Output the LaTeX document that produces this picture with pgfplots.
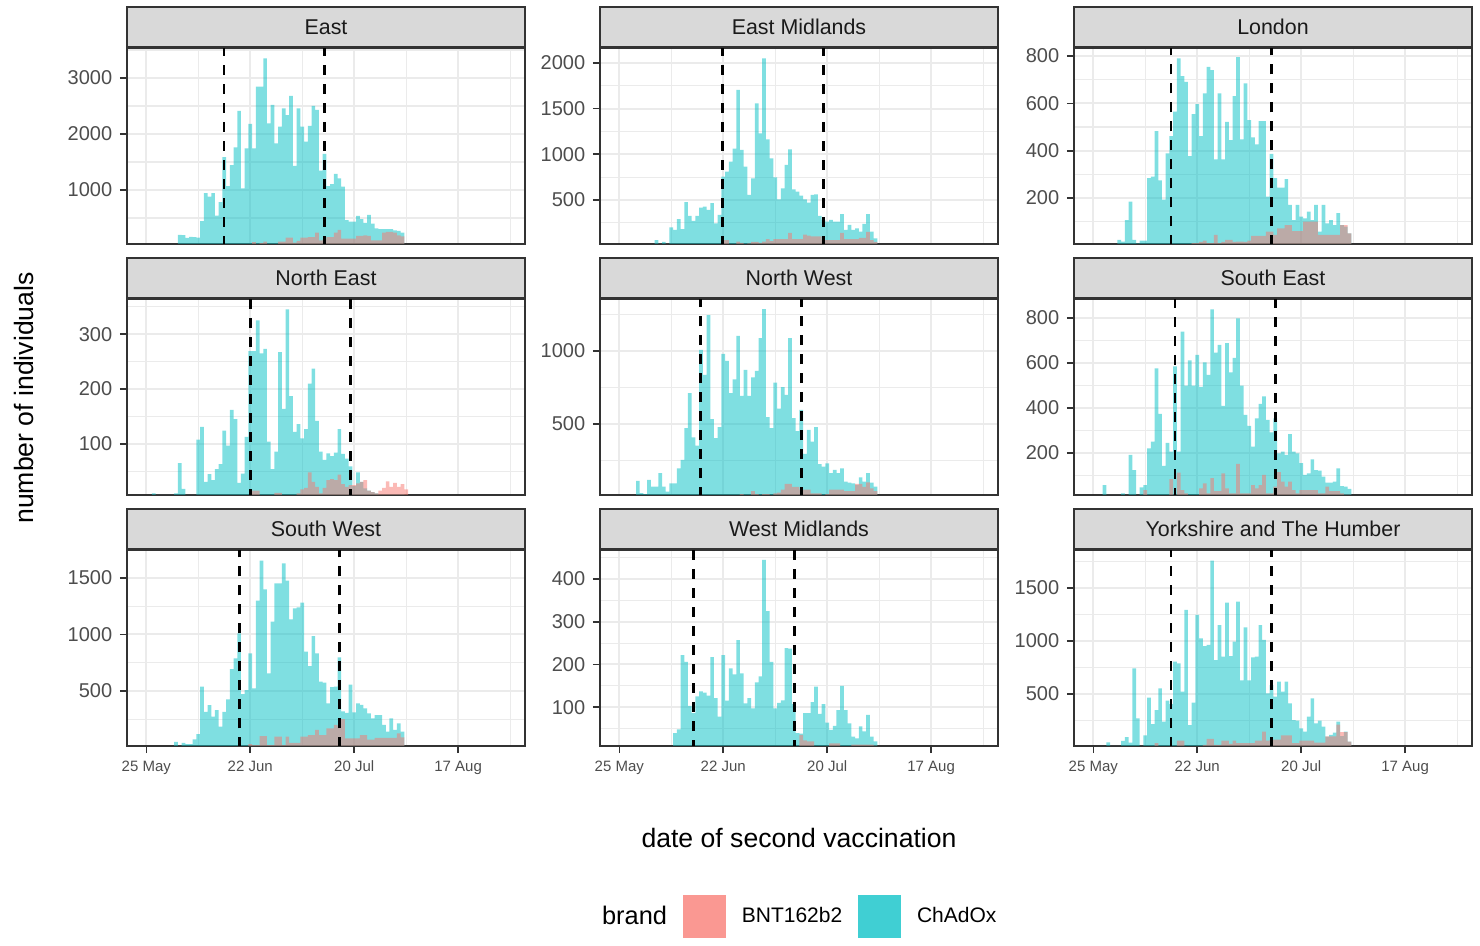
\documentclass[border=0pt]{standalone}
\usepackage{pgfplots}
\pgfplotsset{compat=1.18}
\usepackage{pgfplotstable}
\usepackage{fontspec}
\setmainfont{Liberation Sans}

\definecolor{c10}{HTML}{1A1A1A}
\definecolor{c20}{HTML}{333333}
\definecolor{c30}{HTML}{4D4D4D}
\definecolor{c85}{HTML}{D9D9D9}
\definecolor{c92}{HTML}{EBEBEB}
\definecolor{cyanb}{HTML}{00BFC4}
\definecolor{pinkb}{HTML}{F8766D}
\definecolor{keycyan}{HTML}{40CFD3}
\definecolor{keypink}{HTML}{FA9892}

% columns: d = day after 25 May, c = ChAdOx count, b = BNT162b2 count
\pgfplotstableread{
d c b
9 200 0
10 196 0
11 143 0
12 165 0
13 160 0
14 150 0
15 446 5
16 946 5
17 880 5
18 946 5
19 541 5
20 785 10
21 1589 10
22 1071 10
23 1446 15
24 1762 15
25 2411 15
26 1030 20
27 1744 20
28 2179 30
29 1744 70
30 2845 40
31 2845 50
32 3352 77
33 2190 40
34 2518 30
35 1834 40
36 2131 77
37 2458 77
38 2339 148
39 2679 150
40 1429 60
41 2458 90
42 2131 148
43 1864 148
44 2143 160
45 2500 160
46 2429 238
47 1345 100
48 1643 120
49 1071 160
50 1107 160
51 1286 238
52 1209 286
53 1060 130
54 464 130
55 435 130
56 435 130
57 536 180
58 482 180
59 411 190
60 554 180
61 400 100
62 315 100
63 300 100
64 300 240
65 300 250
66 300 250
67 280 240
68 268 190
69 238 170
70 0 0
}\tEast

\pgfplotstableread{
d c b
10 60 0
11 0 0
12 40 0
13 10 0
14 200 0
15 172 0
16 289 0
17 180 0
18 475 0
19 325 10
20 270 5
21 325 5
22 416 5
23 427 5
24 391 5
25 464 10
26 245 10
27 336 15
28 755 60
29 810 60
30 920 20
31 1062 20
32 1704 45
33 1048 30
34 865 20
35 555 25
36 737 40
37 1558 40
38 1229 30
39 2051 45
40 1164 70
41 955 50
42 747 70
43 507 70
44 628 70
45 884 70
46 1055 140
47 617 70
48 592 70
49 548 70
50 507 120
51 471 110
52 555 100
53 562 100
54 325 100
55 281 60
56 263 60
57 281 60
58 263 60
59 263 60
60 344 140
61 172 70
62 227 70
63 172 70
64 190 70
65 153 85
66 238 85
67 344 150
68 153 60
69 80 40
70 0 0
}\tEM

\pgfplotstableread{
d c b
7 23 0
8 16 0
9 107 0
10 185 0
11 23 0
12 9 0
13 20 0
14 20 0
15 284 0
16 291 0
17 483 0
18 275 0
19 193 0
20 389 0
21 462 0
22 565 2
23 790 2
24 715 2
25 691 5
26 377 5
27 555 10
28 597 10
29 462 15
30 642 20
31 754 10
32 740 10
33 363 44
34 642 10
35 363 15
36 522 23
37 445 23
38 631 15
39 795 16
40 448 16
41 684 15
42 529 20
43 456 40
44 427 40
45 525 40
46 525 40
47 206 58
48 387 58
49 284 44
50 244 72
51 244 72
52 280 86
53 171 86
54 107 60
55 171 60
56 122 60
57 114 100
58 143 100
59 107 100
60 171 100
61 58 44
62 171 44
63 93 44
64 107 44
65 86 44
66 136 44
67 86 86
68 79 86
69 51 51
70 0 0
}\tLondon

\pgfplotstableread{
d c b
2 10 0
3 5 0
4 5 0
5 0 0
6 5 0
7 5 0
8 10 0
9 65 0
10 18 0
11 0 0
12 0 0
13 0 0
14 108 0
15 131 0
16 31 0
17 45 0
18 34 0
19 54 0
20 63 0
21 124 0
22 97 0
23 162 0
24 145 0
25 29 0
26 46 0
27 113 0
28 269 3
29 269 15
30 325 15
31 265 5
32 273 5
33 104 3
34 54 3
35 86 11
36 267 11
37 164 5
38 345 5
39 187 5
40 122 5
41 136 10
42 110 17
43 127 20
44 210 48
45 237 31
46 142 22
47 86 10
48 71 20
49 83 34
50 78 36
51 84 34
52 127 44
53 82 27
54 73 22
55 59 25
56 23 25
57 48 28
58 31 31
59 19 34
60 15 15
61 12 12
62 10 10
63 8 15
64 8 20
65 8 32
66 8 22
67 8 29
68 8 22
69 8 27
70 5 17
71 0 0
}\tNE

\pgfplotstableread{
d c b
5 110 0
6 26 0
7 20 0
8 117 0
9 71 0
10 71 0
11 163 0
12 71 0
13 37 0
14 94 0
15 94 0
16 197 0
17 254 0
18 471 0
19 711 0
20 409 0
21 352 0
22 1007 0
23 836 0
24 1246 0
25 533 0
26 403 0
27 478 5
28 980 5
29 932 5
30 711 5
31 806 5
32 1104 10
33 693 20
34 871 10
35 693 10
36 820 40
37 864 20
38 1088 10
39 1287 20
40 547 20
41 471 10
42 784 25
43 606 30
44 752 50
45 700 90
46 1088 90
47 540 70
48 452 70
49 596 50
50 295 50
51 460 50
52 380 25
53 478 25
54 226 25
55 208 15
56 231 20
57 163 50
58 186 50
59 163 50
60 197 50
61 106 40
62 99 40
63 94 40
64 83 90
65 135 90
66 106 70
67 163 100
68 99 60
69 71 40
70 0 0
}\tNW

\pgfplotstableread{
d c b
3 57 0
4 0 0
5 0 0
6 0 0
7 0 0
8 20 0
9 0 0
10 191 0
11 124 0
12 0 0
13 47 0
14 57 35
15 220 0
16 250 0
17 576 0
18 373 0
19 142 0
20 245 10
21 206 83
22 584 10
23 206 112
24 739 35
25 499 20
26 611 10
27 499 10
28 636 10
29 493 42
30 602 65
31 547 20
32 838 88
33 646 30
34 680 30
35 409 109
36 688 42
37 558 20
38 622 20
39 798 151
40 499 20
41 369 20
42 320 20
43 228 57
44 354 42
45 418 57
46 451 102
47 347 20
48 291 20
49 353 50
50 198 115
51 206 72
52 191 50
53 284 72
54 206 35
55 198 20
56 155 35
57 102 35
58 109 35
59 171 35
60 124 35
61 121 20
62 95 20
63 68 50
64 68 30
65 72 30
66 131 30
67 52 20
68 50 15
69 40 15
70 0 0
}\tSE

\pgfplotstableread{
d c b
8 50 0
9 0 0
10 40 0
11 30 0
12 30 0
13 72 0
14 119 0
15 538 0
16 316 0
17 375 0
18 272 0
19 331 0
20 184 0
21 316 0
22 426 0
23 694 0
24 789 0
25 1010 5
26 473 5
27 508 5
28 833 30
29 522 20
30 1299 20
31 1653 101
32 1400 101
33 656 20
34 1113 20
35 1453 95
36 1453 95
37 1629 20
38 1476 95
39 1134 40
40 1231 40
41 1240 40
42 1281 95
43 848 95
44 720 110
45 986 110
46 833 155
47 582 110
48 573 110
49 391 170
50 533 170
51 538 200
52 798 185
53 320 250
54 306 80
55 556 80
56 311 80
57 391 80
58 376 110
59 346 110
60 302 70
61 257 70
62 287 85
63 287 85
64 199 85
65 140 85
66 257 85
67 155 85
68 214 125
69 140 90
70 0 0
}\tSW

\pgfplotstableread{
d c b
15 39 0
16 48 0
17 222 0
18 206 0
19 103 0
20 86 0
21 125 0
22 137 0
23 134 0
24 127 0
25 217 0
26 121 0
27 78 0
28 222 0
29 115 0
30 191 0
31 177 0
32 257 0
33 179 0
34 109 0
35 121 0
36 97 0
37 158 0
38 172 8
39 445 8
40 325 0
41 206 0
42 97 0
43 110 0
44 116 5
45 238 5
46 237 5
47 107 0
48 39 0
49 38 35
50 86 22
51 86 20
52 112 20
53 148 5
54 84 5
55 107 5
56 64 5
57 47 15
58 56 15
59 93 15
60 150 5
61 93 5
62 62 5
63 31 12
64 27 12
65 55 12
66 43 12
67 82 12
68 31 12
69 20 10
70 0 0
}\tWM

\pgfplotstableread{
d c b
4 44 0
5 0 0
6 0 0
7 0 0
8 57 0
9 92 0
10 41 0
11 742 0
12 270 0
13 0 0
14 110 0
15 465 0
16 216 0
17 348 35
18 553 0
19 238 0
20 437 0
21 405 0
22 804 10
23 789 60
24 521 60
25 1292 10
26 206 10
27 417 10
28 1245 10
29 1025 10
30 952 20
31 962 75
32 1757 75
33 820 20
34 1150 20
35 851 60
36 1361 60
37 857 30
38 993 60
39 1371 35
40 628 35
41 1128 35
42 628 35
43 845 35
44 851 60
45 1150 60
46 1009 145
47 506 60
48 584 70
49 474 70
50 616 70
51 521 110
52 616 110
53 411 110
54 254 35
55 248 35
56 175 60
57 144 60
58 286 60
59 459 60
60 223 40
61 248 40
62 191 40
63 97 100
64 113 100
65 135 100
66 238 210
67 103 140
68 144 140
69 50 50
70 0 0
}\tY

\pgfplotsset{
  facet/.style={
    scale only axis, width=199pt, height=98pt,
    xmin=-5.2, xmax=102,
    clip mode=individual,
    axis line style={draw=c20, line width=0.8pt},
    xtick={0,28,56,84}, minor xtick={14,42,70,98},
    xmajorgrids=true, xminorgrids=true, ymajorgrids=true, yminorgrids=true,
    major grid style={draw=c92, line width=1pt},
    minor grid style={draw=c92, line width=0.55pt},
    tick align=outside, xtick pos=bottom, ytick pos=left,
    major tick length=3.6pt, minor tick length=0pt,
    tick style={draw=c20, line width=0.8pt},
    scaled y ticks=false,
    /pgf/number format/assume math mode=true,
    yticklabel style={font=\fontsize{10}{12}\selectfont, text=c30, anchor=east, inner sep=0pt, xshift=-3.6pt},
    every axis title shift=0pt,
    title style={at={(0.5,1)}, anchor=south, yshift=0pt, fill=c85, draw=c20, line width=0.8pt,
      minimum width=199pt, minimum height=20pt, inner sep=0pt, text height=7.66pt, text depth=0pt,
      font=\fontsize{10.7}{13}\selectfont, text=c10},
  },
  toprow/.style={xmajorticks=false, xminorticks=false},
  botrow/.style={xticklabels={25 May,22 Jun,20 Jul,17 Aug},
    xticklabel style={font=\fontsize{7.5}{9}\selectfont, text=c30, anchor=north, inner sep=0pt,
      text height=5.4pt, text depth=0pt, yshift=-3.5pt}},
}

\newcommand{\hist}[3]{%
  \addplot[const plot, draw=none, fill=cyanb, fill opacity=0.5, forget plot]
    table[x expr=\thisrow{d}-0.5, y=c]{#1} \closedcycle;
  \addplot[const plot, draw=none, fill=pinkb, fill opacity=0.5, forget plot]
    table[x expr=\thisrow{d}-0.5, y=b]{#1} \closedcycle;
  \addplot[black, line width=1.4pt, dash pattern=on 5pt off 4.5pt, forget plot]
    coordinates {(#2,0) (#2,5000)};
  \addplot[black, line width=1.4pt, dash pattern=on 5pt off 4.5pt, forget plot]
    coordinates {(#3,0) (#3,5000)};
}

\begin{document}
\begin{tikzpicture}
\useasboundingbox (0,0) rectangle (740pt,473pt);

% Row 1
\begin{axis}[facet, toprow, at={(63.5pt,351pt)}, anchor=south west, title={East},
  ymin=36, ymax=3536, ytick={1000,2000,3000}, yticklabels={1000,2000,3000}, minor ytick={500,1500,2500,3500}]
  \hist{\tEast}{20.9}{48.0}
\end{axis}
\begin{axis}[facet, toprow, at={(300pt,351pt)}, anchor=south west, title={East Midlands},
  ymin=18, ymax=2164, ytick={500,1000,1500,2000}, yticklabels={500,1000,1500,2000}, minor ytick={250,750,1250,1750}]
  \hist{\tEM}{27.9}{55.0}
\end{axis}
\begin{axis}[facet, toprow, at={(537pt,351pt)}, anchor=south west, title={London},
  ymin=6, ymax=834, ytick={200,400,600,800}, yticklabels={200,400,600,800}, minor ytick={100,300,500,700}]
  \hist{\tLondon}{20.9}{48.0}
\end{axis}

% Row 2
\begin{axis}[facet, toprow, at={(63.5pt,225.5pt)}, anchor=south west, title={North East},
  ymin=7, ymax=364, ytick={100,200,300}, yticklabels={100,200,300}, minor ytick={50,150,250,350}]
  \hist{\tNE}{28.0}{55.1}
\end{axis}
\begin{axis}[facet, toprow, at={(300pt,225.5pt)}, anchor=south west, title={North West},
  ymin=14, ymax=1356, ytick={500,1000}, yticklabels={500,1000}, minor ytick={250,750,1250}]
  \hist{\tNW}{21.8}{49.0}
\end{axis}
\begin{axis}[facet, toprow, at={(537pt,225.5pt)}, anchor=south west, title={South East},
  ymin=13, ymax=884, ytick={200,400,600,800}, yticklabels={200,400,600,800}, minor ytick={100,300,500,700}]
  \hist{\tSE}{22.0}{49.1}
\end{axis}

% Row 3
\begin{axis}[facet, botrow, at={(63.5pt,100pt)}, anchor=south west, title={South West},
  ymin=13, ymax=1748, ytick={500,1000,1500}, yticklabels={500,1000,1500}, minor ytick={250,750,1250}]
  \hist{\tSW}{25.0}{52.1}
\end{axis}
\begin{axis}[facet, botrow, at={(300pt,100pt)}, anchor=south west, title={West Midlands},
  ymin=9, ymax=468, ytick={100,200,300,400}, yticklabels={100,200,300,400}, minor ytick={50,150,250,350,450},
  legend columns=3,
  legend cell align=left,
  legend style={draw=none, fill=none, at={(0,0)}, anchor=west, xshift=-7.15pt, yshift=-85.35pt,
    inner xsep=0pt, inner ysep=0pt, nodes={inner sep=0pt},
    /tikz/every odd column/.append style={column sep=8pt},
    /tikz/every even column/.append style={column sep=8pt},
    font=\fontsize{10.5}{12}\selectfont}]
  \hist{\tWM}{20.0}{47.1}
  \addlegendimage{empty legend}
  \addlegendentry{\fontsize{12.7}{15}\selectfont brand}
  \addlegendimage{legend image code/.code={\fill[keypink] (0pt,-10.5pt) rectangle (21pt,10.5pt);}}
  \addlegendentry{BNT162b2}
  \addlegendimage{legend image code/.code={\fill[keycyan] (0pt,-10.5pt) rectangle (21pt,10.5pt);}}
  \addlegendentry{ChAdOx}
\end{axis}
\begin{axis}[facet, botrow, at={(537pt,100pt)}, anchor=south west, title={Yorkshire and The Humber},
  ymin=9, ymax=1858, ytick={500,1000,1500}, yticklabels={500,1000,1500}, minor ytick={250,750,1250,1750}]
  \hist{\tY}{20.9}{48.0}
\end{axis}

\node[font=\fontsize{13.3}{16}\selectfont, anchor=base] at (399.5pt,49pt) {date of second vaccination};
\node[font=\fontsize{13.3}{16}\selectfont, anchor=base, rotate=90] at (16.7pt,274pt) {number of individuals};

\end{tikzpicture}
\end{document}
